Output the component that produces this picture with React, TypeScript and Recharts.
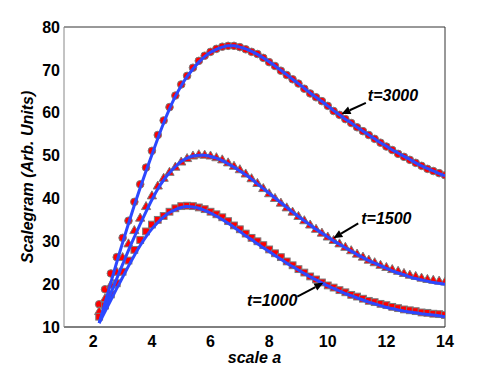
import { ComposedChart, Line, XAxis, YAxis, ReferenceLine } from "recharts";

// scale a, sampled every 0.2
const scaleA = [
  2.2, 2.4, 2.6, 2.8, 3.0, 3.2, 3.4, 3.6, 3.8, 4.0,
  4.2, 4.4, 4.6, 4.8, 5.0, 5.2, 5.4, 5.6, 5.8, 6.0,
  6.2, 6.4, 6.6, 6.8, 7.0, 7.2, 7.4, 7.6, 7.8, 8.0,
  8.2, 8.4, 8.6, 8.8, 9.0, 9.2, 9.4, 9.6, 9.8, 10.0,
  10.2, 10.4, 10.6, 10.8, 11.0, 11.2, 11.4, 11.6, 11.8, 12.0,
  12.2, 12.4, 12.6, 12.8, 13.0, 13.2, 13.4, 13.6, 13.8, 14.0,
];

// measured scalegram (markers)
const meas3000 = [
  15.3, 18.8, 22.5, 26.3, 30.8, 34.8, 39.2, 43.3, 47.2, 51.1,
  54.8, 58.2, 61.3, 64.0, 66.6, 68.6, 70.5, 72.1, 73.3, 74.2,
  74.9, 75.4, 75.6, 75.6, 75.3, 74.8, 74.2, 73.7, 72.8, 71.8,
  70.9, 69.8, 68.8, 67.8, 66.8, 65.6, 64.5, 63.6, 62.7, 61.6,
  60.4, 59.5, 58.5, 57.6, 56.6, 55.7, 54.8, 53.9, 53.0, 52.1,
  51.3, 50.4, 49.7, 49.0, 48.3, 47.6, 46.9, 46.4, 45.9, 45.4,
];
const meas1500 = [
  13.7, 16.7, 19.9, 22.9, 26.3, 29.5, 32.6, 35.5, 38.2, 40.7,
  43.0, 44.8, 46.2, 47.4, 48.6, 49.4, 50.0, 50.3, 50.2, 50.0,
  49.6, 49.1, 48.4, 47.6, 46.8, 45.8, 44.7, 43.6, 42.4, 41.2,
  40.1, 39.0, 37.9, 36.9, 35.9, 34.9, 33.9, 32.9, 32.0, 31.1,
  30.3, 29.5, 28.7, 27.9, 27.1, 26.4, 25.7, 25.1, 24.5, 24.0,
  23.5, 23.1, 22.6, 22.2, 21.9, 21.5, 21.2, 21.0, 20.8, 20.6,
];
const meas1000 = [
  12.4, 15.0, 17.6, 20.2, 22.9, 25.5, 28.0, 30.3, 32.3, 33.9,
  35.0, 35.9, 36.9, 37.7, 38.2, 38.3, 38.2, 37.9, 37.5, 36.9,
  36.3, 35.6, 34.7, 33.7, 32.8, 31.8, 30.8, 30.0, 29.1, 28.1,
  27.2, 26.3, 25.3, 24.4, 23.5, 22.7, 21.8, 21.1, 20.4, 19.7,
  19.2, 18.6, 18.1, 17.5, 17.1, 16.6, 16.1, 15.8, 15.4, 15.1,
  14.7, 14.4, 14.1, 13.9, 13.7, 13.4, 13.3, 13.1, 13.0, 12.8,
];

// fitted curves (blue)
const fit3000 = [
  10.9, 15.6, 20.4, 25.1, 29.7, 34.1, 38.4, 42.5, 46.4, 50.2,
  54.0, 57.6, 60.9, 63.8, 66.3, 68.4, 70.2, 71.8, 73.1, 74.1,
  74.8, 75.3, 75.6, 75.6, 75.3, 74.9, 74.3, 73.6, 72.8, 71.9,
  70.9, 69.9, 68.9, 67.8, 66.8, 65.7, 64.6, 63.6, 62.6, 61.6,
  60.5, 59.5, 58.5, 57.6, 56.6, 55.7, 54.8, 53.9, 53.0, 52.2,
  51.3, 50.6, 49.8, 49.1, 48.3, 47.6, 47.0, 46.4, 45.8, 45.3,
];
const fit1500 = [
  11.0, 14.4, 17.9, 21.3, 24.6, 27.9, 31.0, 34.0, 36.9, 39.7,
  42.2, 44.3, 46.0, 47.4, 48.6, 49.4, 49.9, 50.1, 50.1, 49.8,
  49.4, 48.8, 48.1, 47.3, 46.4, 45.5, 44.5, 43.4, 42.3, 41.2,
  40.1, 39.0, 37.9, 36.8, 35.8, 34.8, 33.8, 32.8, 31.9, 31.0,
  30.1, 29.3, 28.5, 27.7, 26.9, 26.2, 25.5, 24.9, 24.3, 23.7,
  23.1, 22.6, 22.2, 21.7, 21.3, 21.0, 20.7, 20.4, 20.2, 20.0,
];
const fit1000 = [
  10.9, 13.6, 16.3, 19.0, 21.6, 24.2, 26.7, 29.0, 31.1, 32.9,
  34.4, 35.7, 36.7, 37.4, 37.9, 38.1, 38.0, 37.7, 37.2, 36.6,
  35.9, 35.1, 34.2, 33.3, 32.3, 31.3, 30.4, 29.4, 28.5, 27.6,
  26.7, 25.8, 24.9, 24.1, 23.3, 22.5, 21.7, 21.0, 20.3, 19.6,
  19.0, 18.4, 17.8, 17.3, 16.8, 16.3, 15.8, 15.4, 15.0, 14.6,
  14.3, 14.0, 13.7, 13.5, 13.3, 13.1, 12.9, 12.8, 12.6, 12.4,
];

const xTicks = [2, 4, 6, 8, 10, 12, 14];
const yTicks = [10, 20, 30, 40, 50, 60, 70, 80];

const notes = [
  { text: "t=3000", tail: { x: 11.3, y: 62.3 }, tip: { x: 10.47, y: 59.7 }, dx: 2, dy: -7, anchor: "start" },
  { text: "t=1500", tail: { x: 11.04, y: 34.2 }, tip: { x: 10.19, y: 30.7 }, dx: 3, dy: -5, anchor: "start" },
  { text: "t=1000", tail: { x: 8.96, y: 17.1 }, tip: { x: 9.85, y: 20.3 }, dx: 0, dy: 4, anchor: "end" },
];

const rows = scaleA.map((a, i) => ({
  a,
  m3000: meas3000[i],
  m1500: meas1500[i],
  m1000: meas1000[i],
  f3000: fit3000[i],
  f1500: fit1500[i],
  f1000: fit1000[i],
}));

const W = 491;
const H = 369;
const FONT = "'Liberation Sans', Arial, Helvetica, sans-serif";
const RED = "#ff0000";
const EDGE = "#7a7a7a";
const BLUE = "#2c48ff";

const tickStyle = { fontSize: 16, fontWeight: 700, fill: "#000", fontFamily: FONT };

function CircleDot(p: any) {
  if (p.cx == null || p.cy == null) return <g key={`c${p.index}`} />;
  return <circle key={`c${p.index}`} cx={p.cx} cy={p.cy} r={3.8} fill={RED} stroke={EDGE} strokeWidth={1} />;
}

function TriangleDot(p: any) {
  if (p.cx == null || p.cy == null) return <g key={`t${p.index}`} />;
  const s = 4.6;
  const pts = `${p.cx},${p.cy - s} ${p.cx + s},${p.cy + s * 0.75} ${p.cx - s},${p.cy + s * 0.75}`;
  return <polygon key={`t${p.index}`} points={pts} fill={RED} stroke={EDGE} strokeWidth={1} />;
}

function SquareDot(p: any) {
  if (p.cx == null || p.cy == null) return <g key={`s${p.index}`} />;
  const h = 3.4;
  return <rect key={`s${p.index}`} x={p.cx - h} y={p.cy - h} width={h * 2} height={h * 2} fill={RED} stroke={EDGE} strokeWidth={1} />;
}

function arrowShape(note: (typeof notes)[number]) {
  return (props: any) => {
    const { x1, y1, x2, y2 } = props;
    const ang = Math.atan2(y2 - y1, x2 - x1);
    const head = 9;
    const half = 4;
    const bx = x2 - head * Math.cos(ang);
    const by = y2 - head * Math.sin(ang);
    const px = -Math.sin(ang) * half;
    const py = Math.cos(ang) * half;
    return (
      <g>
        <line x1={x1} y1={y1} x2={bx} y2={by} stroke="#000" strokeWidth={2} />
        <polygon points={`${x2},${y2} ${bx + px},${by + py} ${bx - px},${by - py}`} fill="#000" />
        <text
          x={x1 + note.dx}
          y={y1 + note.dy}
          textAnchor={note.anchor}
          dominantBaseline="central"
          fontSize={16}
          fontWeight={700}
          fontStyle="italic"
          fontFamily={FONT}
          fill="#000"
        >
          {note.text}
        </text>
      </g>
    );
  };
}

function YLabel({ viewBox }: any) {
  const cx = viewBox.x + 27;
  const cy = viewBox.y + viewBox.height / 2;
  return (
    <text
      x={cx}
      y={cy}
      transform={`rotate(-90, ${cx}, ${cy})`}
      textAnchor="middle"
      dominantBaseline="central"
      fontSize={16}
      fontWeight={700}
      fontStyle="italic"
      fontFamily={FONT}
      fill="#000"
    >
      Scalegram (Arb. Units)
    </text>
  );
}

// frame, ticks and markers
function MarkerChart() {
  return (
    <ComposedChart width={W} height={H} data={rows} margin={{ top: 27, right: 46, bottom: 0, left: 0 }}>
      <XAxis
        dataKey="a"
        type="number"
        domain={[1, 14]}
        ticks={xTicks}
        allowDataOverflow
        height={42}
        tickLine={false}
        tickSize={4}
        tickMargin={5}
        axisLine={{ stroke: "#000", strokeWidth: 1 }}
        tick={tickStyle}
        label={{
          value: "scale a",
          position: "insideBottom",
          offset: 6,
          fontSize: 16,
          fontWeight: 700,
          fontStyle: "italic",
          fontFamily: FONT,
          fill: "#000",
        }}
      />
      <XAxis
        xAxisId="bm"
        dataKey="a"
        type="number"
        domain={[1, 14]}
        ticks={xTicks}
        allowDataOverflow
        orientation="bottom"
        mirror
        tick={false}
        tickSize={5}
        tickLine={{ stroke: "#777" }}
        axisLine={false}
      />
      <XAxis
        xAxisId="top"
        dataKey="a"
        type="number"
        domain={[1, 14]}
        ticks={xTicks}
        allowDataOverflow
        orientation="top"
        mirror
        tick={false}
        tickSize={5}
        tickLine={{ stroke: "#777" }}
        axisLine={{ stroke: "#333" }}
      />
      <YAxis
        type="number"
        domain={[10, 80]}
        ticks={yTicks}
        allowDataOverflow
        width={64}
        tickLine={false}
        tickSize={2}
        tickMargin={2}
        axisLine={{ stroke: "#888" }}
        tick={tickStyle}
        label={<YLabel />}
      />
      <YAxis
        yAxisId="lm"
        type="number"
        domain={[10, 80]}
        ticks={yTicks}
        allowDataOverflow
        orientation="left"
        mirror
        tick={false}
        tickSize={5}
        tickLine={{ stroke: "#777" }}
        axisLine={false}
      />
      <YAxis
        yAxisId="right"
        type="number"
        domain={[10, 80]}
        ticks={yTicks}
        allowDataOverflow
        orientation="right"
        mirror
        tick={false}
        tickSize={5}
        tickLine={{ stroke: "#777" }}
        axisLine={{ stroke: "#333" }}
      />

      <Line dataKey="m3000" stroke="none" strokeWidth={0} dot={CircleDot} activeDot={false} isAnimationActive={false} />
      <Line dataKey="m1500" stroke="none" strokeWidth={0} dot={TriangleDot} activeDot={false} isAnimationActive={false} />
      <Line dataKey="m1000" stroke="none" strokeWidth={0} dot={SquareDot} activeDot={false} isAnimationActive={false} />
    </ComposedChart>
  );
}

// fitted curves and annotations, drawn over the markers on the same plot area
function FitChart() {
  return (
    <ComposedChart width={W} height={H} data={rows} margin={{ top: 27, right: 46, bottom: 42, left: 64 }}>
      <XAxis dataKey="a" type="number" domain={[1, 14]} allowDataOverflow hide />
      <YAxis type="number" domain={[10, 80]} allowDataOverflow hide />
      <Line type="monotone" dataKey="f3000" stroke={BLUE} strokeWidth={3} dot={false} activeDot={false} isAnimationActive={false} />
      <Line type="monotone" dataKey="f1500" stroke={BLUE} strokeWidth={3} dot={false} activeDot={false} isAnimationActive={false} />
      <Line type="monotone" dataKey="f1000" stroke={BLUE} strokeWidth={3} dot={false} activeDot={false} isAnimationActive={false} />
      {notes.map((n) => (
        <ReferenceLine key={n.text} segment={[n.tail, n.tip]} shape={arrowShape(n)} />
      ))}
    </ComposedChart>
  );
}

export default function App() {
  return (
    <div style={{ position: "absolute", left: 0, top: 0, width: W, height: H, background: "#fff" }}>
      <div style={{ position: "absolute", left: 0, top: 0 }}>
        <MarkerChart />
      </div>
      <div style={{ position: "absolute", left: 0, top: 0, pointerEvents: "none" }}>
        <FitChart />
      </div>
    </div>
  );
}
